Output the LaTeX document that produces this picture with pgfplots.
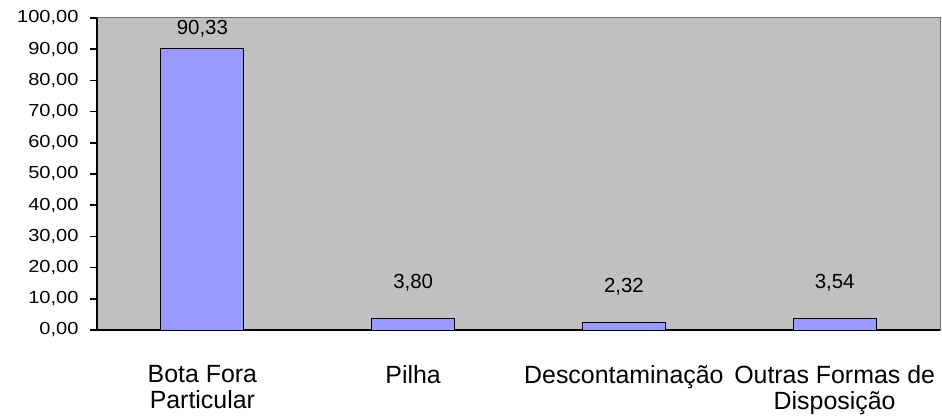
\documentclass[border=0pt]{standalone}
\usepackage{pgfplots}
\pgfplotsset{compat=1.18}
\usepackage{fontspec}
\setmainfont{Liberation Sans}
\newfontfamily\tickfont[FakeStretch=1.15]{Liberation Sans}
\definecolor{bg}{HTML}{C0C0C0}
\definecolor{barc}{HTML}{9999FF}
\begin{document}
\begin{tikzpicture}
\begin{axis}[
  name=ax,
  scale only axis,
  width=843bp, height=312bp,
  xmin=-0.5, xmax=3.5, ymin=0, ymax=100,
  clip=false,
  axis x line*=bottom, axis y line*=left,
  axis line style={black, line width=1.5pt, -},
  axis background/.style={fill=bg, draw=gray!90!black, line width=1pt},
  ytick={0,10,...,100},
  yticklabel style={/pgf/number format/fixed, /pgf/number format/fixed zerofill, /pgf/number format/precision=2, /pgf/number format/use comma, /pgf/number format/assume math mode=true, font=\tickfont\fontsize{17.5}{19}\selectfont, xshift=-8bp},
  ytick style={black, line width=1.5pt},
  major tick length=7bp,
  tick align=outside,
  xtick={0,1,2,3},
  xticklabels={{Bota Fora\\Particular},{Pilha},{Descontaminação},{Outras Formas de\\Disposição}},
  xticklabel style={align=center, font=\fontsize{25}{26}\selectfont, inner sep=0pt, yshift=-28bp},
  xtick style={draw=none},
  minor xtick={-0.5,0.5,1.5,2.5,3.5},
  minor x tick style={black, line width=1.5pt},
  minor tick length=7bp,
  nodes near coords={\pgfmathprintnumber[fixed, fixed zerofill, precision=2, use comma, assume math mode=true]{\pgfplotspointmeta}},
  every node near coord/.append style={font=\fontsize{20.5}{22}\selectfont, anchor=base, inner sep=0pt},
]
\addplot[ybar, bar shift=0pt, bar width=83bp, fill=barc, draw=black, line width=1pt,
  every node near coord/.append style={yshift=14bp}] coordinates {(0,90.33)};
\addplot[ybar, bar shift=0pt, bar width=83bp, fill=barc, draw=black, line width=1pt,
  every node near coord/.append style={yshift=30bp}] coordinates {(1,3.80) (2,2.32) (3,3.54)};
\end{axis}
\path[use as bounding box] ([shift={(-97bp,-87bp)}]ax.south west) rectangle ([shift={(2bp,18bp)}]ax.north east);
\end{tikzpicture}
\end{document}
